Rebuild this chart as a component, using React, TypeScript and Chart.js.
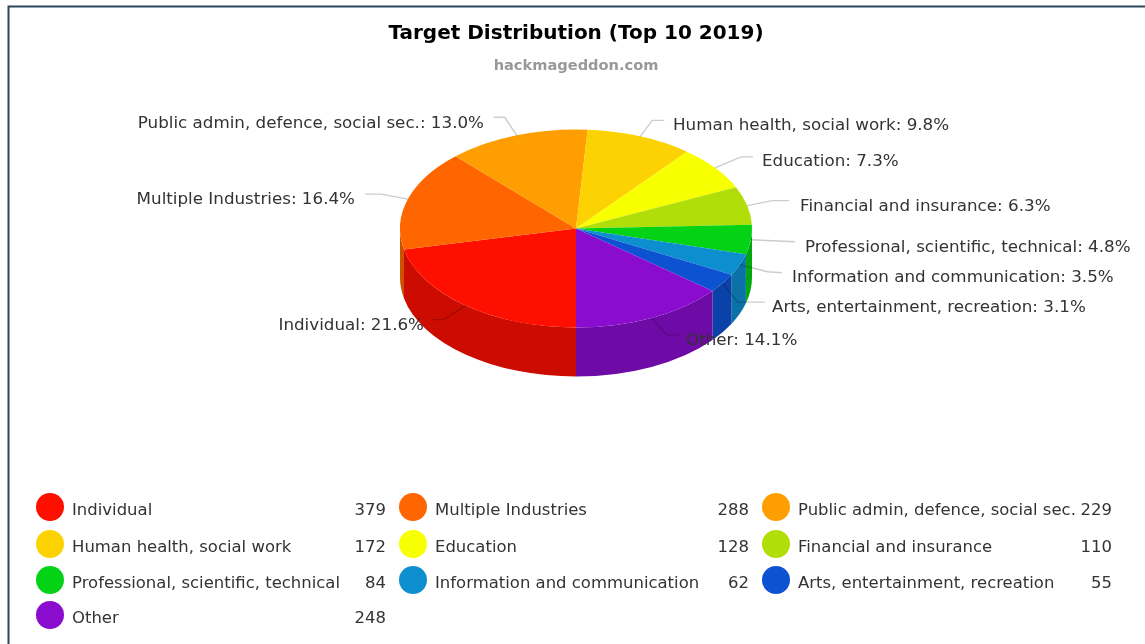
import React, { useEffect, useRef } from "react";
import { Chart, registerables } from "chart.js";

Chart.register(...registerables);

const TITLE = "Target Distribution (Top 10 2019)";
const SUBTITLE = "hackmageddon.com";
const categories = [
  "Individual",
  "Multiple Industries",
  "Public admin, defence, social sec.",
  "Human health, social work",
  "Education",
  "Financial and insurance",
  "Professional, scientific, technical",
  "Information and communication",
  "Arts, entertainment, recreation",
  "Other",
];
const attacks = [379, 288, 229, 172, 128, 110, 84, 62, 55, 248];
const colors = [
  "#FF0F00", "#FF6600", "#FF9E01", "#FCD202", "#F8FF01",
  "#B0DE09", "#04D215", "#0D8ECF", "#0D52D1", "#8A0CCF",
];

// Layout only: ellipse shape of the tilted pie.
const PIE_RADIUS = 176;
const PIE_CENTER_Y = 228.5;
const PIE_RATIO = 99 / 176;
const PIE_DEPTH = 49;
const FONT = '"DejaVu Sans", Verdana, sans-serif';
const TEXT = "#333333";
const LABEL_PX = 15;
const LABEL_STRETCH = 1.115;
const LEGEND_STRETCH = 1.098;

// Layout only: for each slice, elbow offset from its rim point, line end offset, text anchor.
const labelLayout = [
  { ex: -22, ey: 14, lx: -33, ly: 14, tx: 424, ty: 326, al: "right" },
  { ex: -27, ey: -5, lx: -43, ly: -5, tx: 355, ty: 200, al: "right" },
  { ex: -12, ey: -18, lx: -23, ly: -18, tx: 484, ty: 124, al: "right" },
  { ex: 12, ey: -16, lx: 24, ly: -16, tx: 673, ty: 126, al: "left" },
  { ex: 26, ey: -11, lx: 38, ly: -11, tx: 762, ty: 162, al: "left" },
  { ex: 25, ey: -5, lx: 42, ly: -5, tx: 800, ty: 207, al: "left" },
  { ex: 22, ey: 1, lx: 44, ly: 2, tx: 805, ty: 248, al: "left" },
  { ex: 28, ey: 7, lx: 42, ly: 8, tx: 792, ty: 278, al: "left" },
  { ex: 15, ey: 19, lx: 42, ly: 19, tx: 772, ty: 308, al: "left" },
  { ex: 15, ey: 17, lx: 27, ly: 17, tx: 686, ty: 341, al: "left" },
];
const legendColumns = [
  { marker: 50, text: 72, value: 386 },
  { marker: 413, text: 435, value: 749 },
  { marker: 776, text: 798, value: 1112 },
];
const legendRows = [510, 547, 583, 618];

const darken = (hex: string, k: number) => {
  const n = parseInt(hex.slice(1), 16);
  const c = [(n >> 16) & 255, (n >> 8) & 255, n & 255].map((v) => Math.round(v * k));
  return `rgb(${c[0]},${c[1]},${c[2]})`;
};

const wideText = (ctx: any, text: string, x: number, y: number, align: string, stretch: number) => {
  ctx.save();
  ctx.translate(x, y);
  ctx.scale(stretch, 1);
  ctx.textAlign = align;
  ctx.fillText(text, 0, 0);
  ctx.restore();
};

const pieTiltPlugin = {
  id: "pieTilt",
  beforeDatasetsDraw(chart: any) {
    const { ctx } = chart;
    const arcs = chart.getDatasetMeta(0).data;
    const TAU = Math.PI * 2;
    ctx.save();
    arcs.forEach((arc: any, i: number) => {
      const p = arc.getProps(["x", "startAngle", "endAngle", "outerRadius"], true);
      const rx = p.outerRadius;
      const ry = rx * PIE_RATIO;
      [-TAU, 0, TAU].forEach((k) => {
        const s = Math.max(p.startAngle + k, 0);
        const e = Math.min(p.endAngle + k, Math.PI);
        if (e <= s) return;
        ctx.beginPath();
        ctx.ellipse(p.x, PIE_CENTER_Y, rx, ry, 0, s, e);
        ctx.ellipse(p.x, PIE_CENTER_Y + PIE_DEPTH, rx, ry, 0, e, s, true);
        ctx.closePath();
        ctx.fillStyle = darken(colors[i], 0.8);
        ctx.fill();
      });
    });
    ctx.restore();
    const first = arcs[0].getProps(["x", "y"], true);
    ctx.save();
    ctx.translate(first.x, PIE_CENTER_Y);
    ctx.scale(1, PIE_RATIO);
    ctx.translate(-first.x, -first.y);
  },
  afterDatasetsDraw(chart: any) {
    const { ctx } = chart;
    ctx.restore();
    const total = attacks.reduce((a, b) => a + b, 0);
    const arcs = chart.getDatasetMeta(0).data;
    ctx.save();
    ctx.font = `${LABEL_PX}px ${FONT}`;
    ctx.textBaseline = "middle";
    arcs.forEach((arc: any, i: number) => {
      const p = arc.getProps(["x", "startAngle", "endAngle", "outerRadius"], true);
      const mid = (p.startAngle + p.endAngle) / 2;
      const ax = p.x + p.outerRadius * Math.cos(mid);
      const ay = PIE_CENTER_Y + p.outerRadius * PIE_RATIO * Math.sin(mid);
      const l = labelLayout[i];
      ctx.beginPath();
      ctx.moveTo(ax, ay);
      ctx.lineTo(ax + l.ex, ay + l.ey);
      ctx.lineTo(ax + l.lx, ay + l.ly);
      ctx.strokeStyle = "rgba(0,0,0,0.2)";
      ctx.lineWidth = 1.4;
      ctx.stroke();
      ctx.fillStyle = TEXT;
      wideText(ctx, `${categories[i]}: ${((attacks[i] / total) * 100).toFixed(1)}%`, l.tx, l.ty, l.al, LABEL_STRETCH);
    });
    ctx.restore();
  },
};

const valueLegendPlugin = {
  id: "valueLegend",
  afterDraw(chart: any) {
    const { ctx } = chart;
    ctx.save();
    ctx.font = `${LABEL_PX}px ${FONT}`;
    ctx.textBaseline = "middle";
    categories.forEach((name, i) => {
      const col = legendColumns[i % 3];
      const y = legendRows[Math.floor(i / 3)];
      ctx.beginPath();
      ctx.arc(col.marker, y - 3, 14, 0, Math.PI * 2);
      ctx.fillStyle = colors[i];
      ctx.fill();
      ctx.fillStyle = TEXT;
      wideText(ctx, name, col.text, y + 1, "left", LEGEND_STRETCH);
      wideText(ctx, String(attacks[i]), col.value, y + 1, "right", LEGEND_STRETCH);
    });
    ctx.restore();
  },
};

const framePlugin = {
  id: "frame",
  beforeDraw(chart: any) {
    const { ctx, width, height } = chart;
    ctx.save();
    ctx.fillStyle = "#ffffff";
    ctx.fillRect(0, 0, width, height);
    ctx.strokeStyle = "#2b475c";
    ctx.lineWidth = 2;
    ctx.beginPath();
    ctx.moveTo(width, 6.5);
    ctx.lineTo(8.5, 6.5);
    ctx.lineTo(8.5, height);
    ctx.stroke();
    ctx.restore();
  },
};

export default function App() {
  const ref = useRef<HTMLCanvasElement>(null);
  useEffect(() => {
    if (!ref.current) return;
    const chart = new Chart(ref.current, {
      type: "pie",
      data: {
        labels: categories,
        datasets: [
          {
            data: attacks,
            backgroundColor: colors,
            borderWidth: 0,
            radius: PIE_RADIUS,
            clip: false,
          } as any,
        ],
      },
      options: {
        animation: false,
        responsive: false,
        rotation: 180,
        layout: { padding: { left: 7, right: 0, top: 0, bottom: 0 } },
        plugins: {
          legend: { display: false },
          tooltip: { enabled: false },
          title: {
            display: true,
            text: TITLE,
            color: "#000000",
            font: { family: FONT, size: 20, weight: "bold" },
            padding: { top: 22, bottom: 8 },
          },
          subtitle: {
            display: true,
            text: SUBTITLE,
            color: "#999999",
            font: { family: FONT, size: 14.6, weight: "bold" },
            padding: { top: 3, bottom: 4 },
          },
        },
      },
      plugins: [framePlugin, pieTiltPlugin, valueLegendPlugin],
    } as any);
    return () => chart.destroy();
  }, []);
  return (
    <canvas
      ref={ref}
      width={1145}
      height={644}
      style={{ position: "absolute", left: 0, top: 0, display: "block", filter: "blur(0.4px)" }}
    />
  );
}
